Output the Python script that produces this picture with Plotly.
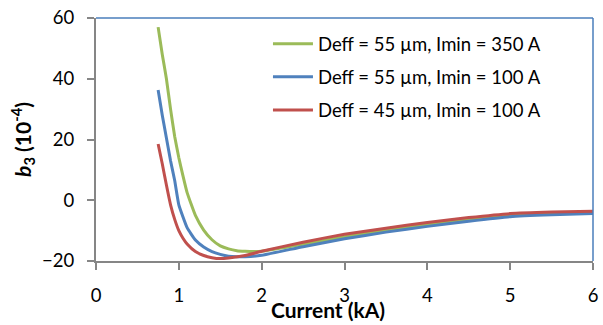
import plotly.graph_objects as go

x_green = [0.75, 0.8, 0.85, 0.9, 0.95, 1.0, 1.05, 1.1, 1.2, 1.3, 1.4, 1.5, 1.6, 1.7, 1.8, 1.9, 2.0, 2.5, 3.0, 3.5, 4.0, 4.5, 5.0, 5.5, 6.0]
y_green = [57, 48, 40, 30, 21, 14, 8, 2.5, -5, -9.8, -13, -15, -16, -16.6, -16.8, -16.9, -16.8, -14.5, -12.0, -9.9, -8.0, -6.3, -4.9, -4.3, -4.0]

x_blue = [0.75, 0.8, 0.85, 0.9, 0.95, 1.0, 1.1, 1.2, 1.3, 1.4, 1.5, 1.6, 1.7, 1.8, 2.0, 2.5, 3.0, 3.5, 4.0, 4.5, 5.0, 5.5, 6.0]
y_blue = [36.3, 28, 20.5, 13, 6.5, -1.5, -9, -13.1, -15.4, -16.9, -17.8, -18.4, -18.6, -18.6, -18.1, -15.3, -12.7, -10.5, -8.6, -6.9, -5.4, -4.8, -4.4]

x_red = [0.75, 0.8, 0.85, 0.9, 0.95, 1.0, 1.05, 1.1, 1.2, 1.3, 1.4, 1.5, 1.6, 1.8, 2.0, 2.5, 3.0, 3.5, 4.0, 4.5, 5.0, 5.5, 6.0]
y_red = [18.5, 12, 5, -1.5, -6.3, -10, -12.5, -14.4, -16.9, -18.2, -18.9, -19.2, -19.0, -18.2, -16.8, -13.8, -11.2, -9.2, -7.3, -5.7, -4.4, -3.9, -3.6]

names = ["Deff = 55 µm, Imin = 350 A", "Deff = 55 µm, Imin = 100 A", "Deff = 45 µm, Imin = 100 A"]
colors = ["#9BBB59", "#4F81BD", "#C0504D"]

x_ticks = [0, 1, 2, 3, 4, 5, 6]
y_ticks = [-20, 0, 20, 40, 60]

FONT = "Lato, 'Open Sans', sans-serif"

fig = go.Figure()
for i, (xs, ys) in enumerate([(x_green, y_green), (x_blue, y_blue), (x_red, y_red)]):
    fig.add_trace(go.Scatter(
        x=xs, y=ys, mode="lines", name=names[i], legendgroup=str(i),
        line=dict(color=colors[i], width=3, shape="spline", smoothing=0.4),
    ))

fig.update_layout(
    width=603, height=325,
    margin=dict(l=96, r=10, t=18, b=64),
    paper_bgcolor="white", plot_bgcolor="white",
    font=dict(family=FONT, size=18.5, color="black"),
    showlegend=True,
    legend=dict(x=0.346, y=0.970, xanchor="left", yanchor="top",
                bgcolor="rgba(0,0,0,0)", font=dict(size=18.5, family=FONT),
                tracegroupgap=6, traceorder="grouped", itemwidth=40),
    xaxis=dict(range=[0, 6], tickvals=x_ticks, showgrid=False, zeroline=False,
               showline=True, linecolor="#868686", linewidth=2, automargin=False,
               ticks="outside", ticklen=7, tickwidth=2, tickcolor="#868686",
               ticklabelstandoff=10, tickfont=dict(size=18.5)),
    yaxis=dict(range=[-20, 60], tickvals=y_ticks, showgrid=False, zeroline=False,
               showline=True, linecolor="#868686", linewidth=2, automargin=False,
               ticks="outside", ticklen=7, tickwidth=2, tickcolor="#868686",
               ticklabelstandoff=9, tickfont=dict(size=18.5),
               title=dict(text="<b><i>b</i><sub>3</sub> (10<sup>-4</sup>)</b>", font=dict(size=21), standoff=5)),
)

fig.add_shape(type="line", xref="paper", yref="paper", x0=0, x1=1, y0=1, y1=1,
              line=dict(color="#4A7EBB", width=1.5))
fig.add_shape(type="line", xref="paper", yref="paper", x0=1, x1=1, y0=0, y1=1,
              line=dict(color="#4A7EBB", width=1.5))

fig.add_annotation(text="<b>Current (kA)</b>", xref="paper", yref="paper",
                   x=0.467, y=-0.20, xanchor="center", yanchor="middle",
                   showarrow=False, font=dict(size=21, family=FONT))

fig.write_html("out.html", config={"displayModeBar": False},
               post_script="document.body.style.margin='0';document.body.style.padding='0';")
